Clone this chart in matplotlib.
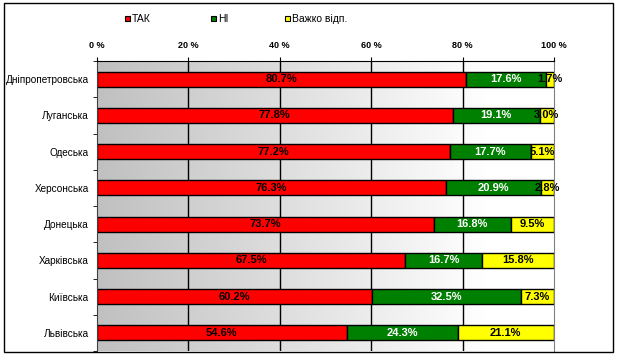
import numpy as np
import matplotlib.pyplot as plt
from matplotlib.patches import Rectangle
from matplotlib.colors import LinearSegmentedColormap

regions = ["Дніпропетровська", "Луганська", "Одеська", "Херсонська",
           "Донецька", "Харківська", "Київська", "Львівська"]
yes = [80.7, 77.8, 77.2, 76.3, 73.7, 67.5, 60.2, 54.6]
no = [17.6, 19.1, 17.7, 20.9, 16.8, 16.7, 32.5, 24.3]
hard = [1.7, 3.0, 5.1, 2.8, 9.5, 15.8, 7.3, 21.1]
series_names = ["ТАК", "НІ", "Важко відп."]
xticks = [0, 20, 40, 60, 80, 100]

W, H = 619, 357
fig = plt.figure(figsize=(W / 100, H / 100), dpi=100)
fig.patch.set_facecolor("white")
ax = fig.add_axes([97 / W, 1 - 351 / H, (554 - 97) / W, (351 - 61) / H])

font = "Liberation Sans"
n = len(regions)
y = np.arange(n)

# gradient background: gray on the left, white towards the right
grad = np.linspace(0, 1, 256).reshape(1, -1)
cmap = LinearSegmentedColormap.from_list(
    "g", [(0, "#c0c0c0"), (0.85, "#ffffff"), (1, "#ffffff")])
ax.imshow(grad, extent=[0, 100, n - 0.5, -0.5], aspect="auto", cmap=cmap, zorder=0)
for xv in xticks[1:-1]:
    ax.axvline(xv, color="black", lw=1, zorder=1)

colors = ["#ff0000", "#008000", "#ffff00"]
text_colors = ["black", "white", "black"]
left = np.zeros(n)
for vals, c, tc, name in zip([yes, no, hard], colors, text_colors, series_names):
    vals = np.array(vals)
    ax.barh(y, vals, left=left, height=0.42, color=c, edgecolor="black",
            lw=1, zorder=2, label=name)
    for yi, l, v in zip(y, left, vals):
        ax.text(l + v / 2, yi, f"{v:.1f}%", ha="center", va="center",
                color=tc, fontsize=8, fontweight="bold", family=font, zorder=3)
    left += vals

ax.set_xlim(0, 100)
ax.set_ylim(n - 0.5, -0.5)
ax.xaxis.tick_top()
ax.set_xticks(xticks)
ax.set_xticklabels([f"{t} %" for t in xticks], fontsize=6.5, family=font,
                   fontweight="bold")
ax.tick_params(axis="x", direction="out", length=3, pad=5, color="black")
ax.set_yticks(y)
ax.set_yticklabels(regions, fontsize=7.2, family=font)
ax.tick_params(axis="y", which="major", length=0, pad=6)
ax.set_yticks(np.arange(n + 1) - 0.5, minor=True)
ax.tick_params(axis="y", which="minor", length=3, direction="out")
ax.spines["bottom"].set_visible(False)
ax.spines["right"].set_color("#808080")
ax.spines["top"].set_color("black")
ax.spines["left"].set_color("#404040")

# legend
leg_x = [125, 211, 285]
for lx, c, name in zip(leg_x, colors, series_names):
    fig.patches.append(Rectangle((lx / W, 1 - 21 / H), 5 / W, 5 / H,
                                 transform=fig.transFigure, facecolor=c,
                                 edgecolor="black", lw=0.8))
    fig.text((lx + 7) / W, 1 - 18.5 / H, name, fontsize=7.5, family=font,
             va="center", ha="left")

# outer frame
fig.patches.append(Rectangle((4 / W, 1 - 352 / H), (613 - 4) / W, (352 - 3) / H,
                             transform=fig.transFigure, fill=False,
                             edgecolor="black", lw=1, zorder=10))

fig.savefig("out.png", dpi=100)
